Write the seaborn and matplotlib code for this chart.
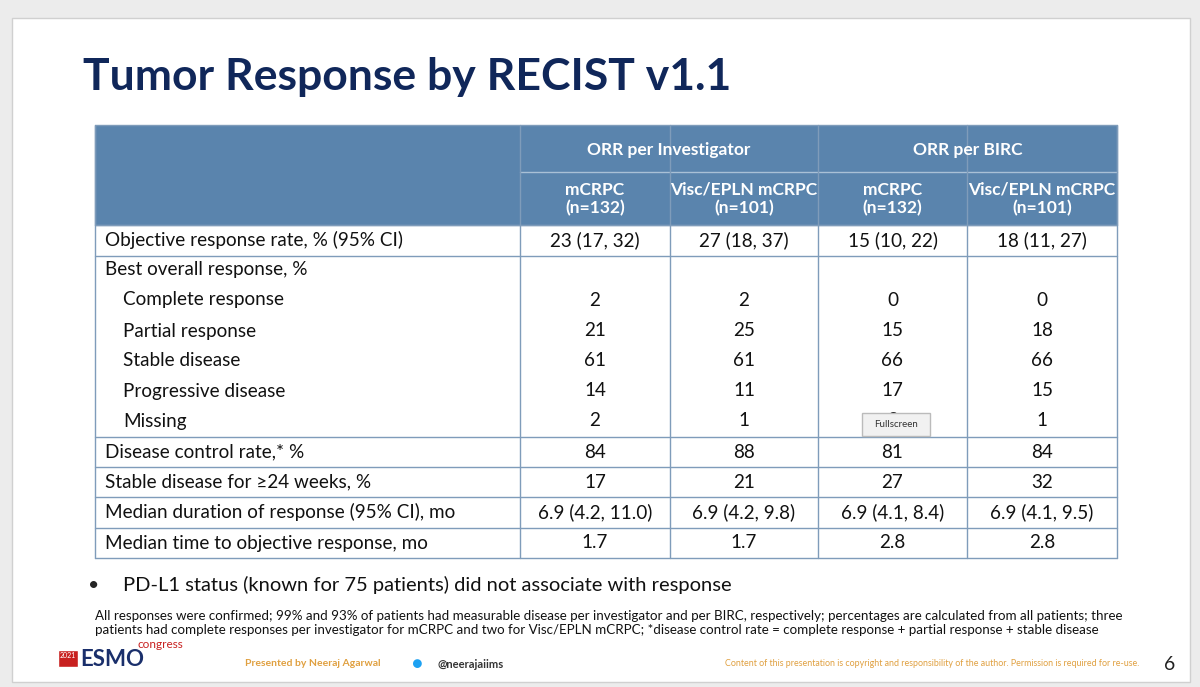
import matplotlib.pyplot as plt
import seaborn as sns
from matplotlib.patches import Rectangle

sns.set_style("white")
plt.rcParams['font.family'] = ['Lato', 'DejaVu Sans']

# data
groups = ["ORR per Investigator", "ORR per BIRC"]
col_heads = ["mCRPC\n(n=132)", "Visc/EPLN mCRPC\n(n=101)", "mCRPC\n(n=132)", "Visc/EPLN mCRPC\n(n=101)"]
row_labels = ["Objective response rate, % (95% CI)", "Best overall response, %",
              "Complete response", "Partial response", "Stable disease",
              "Progressive disease", "Missing", "Disease control rate,* %",
              "Stable disease for \u226524 weeks, %",
              "Median duration of response (95% CI), mo",
              "Median time to objective response, mo"]
indent = [0, 0, 1, 1, 1, 1, 1, 0, 0, 0, 0]
values = [["23 (17, 32)", "27 (18, 37)", "15 (10, 22)", "18 (11, 27)"],
          ["", "", "", ""],
          ["2", "2", "0", "0"],
          ["21", "25", "15", "18"],
          ["61", "61", "66", "66"],
          ["14", "11", "17", "15"],
          ["2", "1", "2", "1"],
          ["84", "88", "81", "84"],
          ["17", "21", "27", "32"],
          ["6.9 (4.2, 11.0)", "6.9 (4.2, 9.8)", "6.9 (4.1, 8.4)", "6.9 (4.1, 9.5)"],
          ["1.7", "1.7", "2.8", "2.8"]]
row_y = [240, 270, 300, 331, 361, 391, 421, 452, 482, 512, 543]
row_lines = [225, 256, 437, 467, 497, 528, 558]
col_x = [95, 520, 670, 818, 967, 1117]

fig = plt.figure(figsize=(12, 6.87), dpi=100)
fig.patch.set_facecolor('#ececec')
ax = fig.add_axes([0, 0, 1, 1])
ax.set_xlim(0, 1200); ax.set_ylim(687, 0); ax.axis('off')

ax.add_patch(Rectangle((12, 18), 1178, 664, facecolor='white', edgecolor='#d0d0d0'))
ax.text(83, 77, "Tumor Response by RECIST v1.1", fontsize=32, fontweight='bold',
        color='#10275a', va='center')

hdr = '#5a84ad'
line_c = '#7f9cba'
ax.add_patch(Rectangle((95, 125), 1022, 100, facecolor=hdr, edgecolor=line_c))
ax.plot([520, 1117], [172, 172], color='#a9c0d6', lw=1)
for x in col_x:
    ax.plot([x, x], [125, 558], color=line_c, lw=1)
for i, g in enumerate(groups):
    ax.text((col_x[1 + 2 * i] + col_x[3 + 2 * i]) / 2, 150, g, color='white',
            fontsize=12.5, fontweight='bold', ha='center', va='center')
for j, h in enumerate(col_heads):
    ax.text((col_x[j + 1] + col_x[j + 2]) / 2, 199, h, color='white', fontsize=12.5,
            fontweight='bold', ha='center', va='center', linespacing=1.2)
for y in row_lines:
    ax.plot([95, 1117], [y, y], color=line_c, lw=1)
for lab, ind, vals, y in zip(row_labels, indent, values, row_y):
    ax.text(105 + 18 * ind, y, lab, fontsize=13.6, va='center', color='#111')
    for j, v in enumerate(vals):
        ax.text((col_x[j + 1] + col_x[j + 2]) / 2, y, v, fontsize=13.6,
                ha='center', va='center', color='#111')

# tooltip covering a cell, as in the screenshot
ax.add_patch(Rectangle((862, 413), 68, 23, facecolor='#f1f1f1', edgecolor='#bbbbbb', zorder=5))
ax.text(896, 424.5, "Fullscreen", fontsize=7, ha='center', va='center', color='#333', zorder=6)

ax.text(88, 585, "\u2022", fontsize=14, va='center')
ax.text(123, 585, "PD-L1 status (known for 75 patients) did not associate with response",
        fontsize=14.5, va='center', color='#111')
ax.text(95, 623, "All responses were confirmed; 99% and 93% of patients had measurable disease per investigator and per BIRC, respectively; percentages are calculated from all patients; three\n"
        "patients had complete responses per investigator for mCRPC and two for Visc/EPLN mCRPC; *disease control rate = complete response + partial response + stable disease",
        fontsize=9.6, va='center', color='#111', linespacing=1.3)

ax.add_patch(Rectangle((58, 650), 20, 17, facecolor='#c8201f'))
ax.text(60, 655, "2021", fontsize=5, color='white', va='center')
ax.text(80, 660, "ESMO", fontsize=16, fontweight='bold', color='#1a2f6b', va='center')
ax.text(138, 645, "congress", fontsize=8.5, color='#c8201f', va='center')
ax.text(245, 664, "Presented by Neeraj Agarwal", fontsize=7.5, color='#e0a040',
        fontweight='bold', va='center')
ax.text(412, 664, "\u25cf", fontsize=13, color='#1da1f2', va='center')
ax.text(438, 664, "@neerajaiims", fontsize=8, color='#333', fontweight='bold', va='center')
ax.text(725, 664, "Content of this presentation is copyright and responsibility of the author. Permission is required for re-use.",
        fontsize=6.4, color='#e0a040', va='center')
ax.text(1170, 664, "6", fontsize=14, va='center', ha='center', color='#222')

fig.savefig("out.png", dpi=100, facecolor=fig.get_facecolor())
